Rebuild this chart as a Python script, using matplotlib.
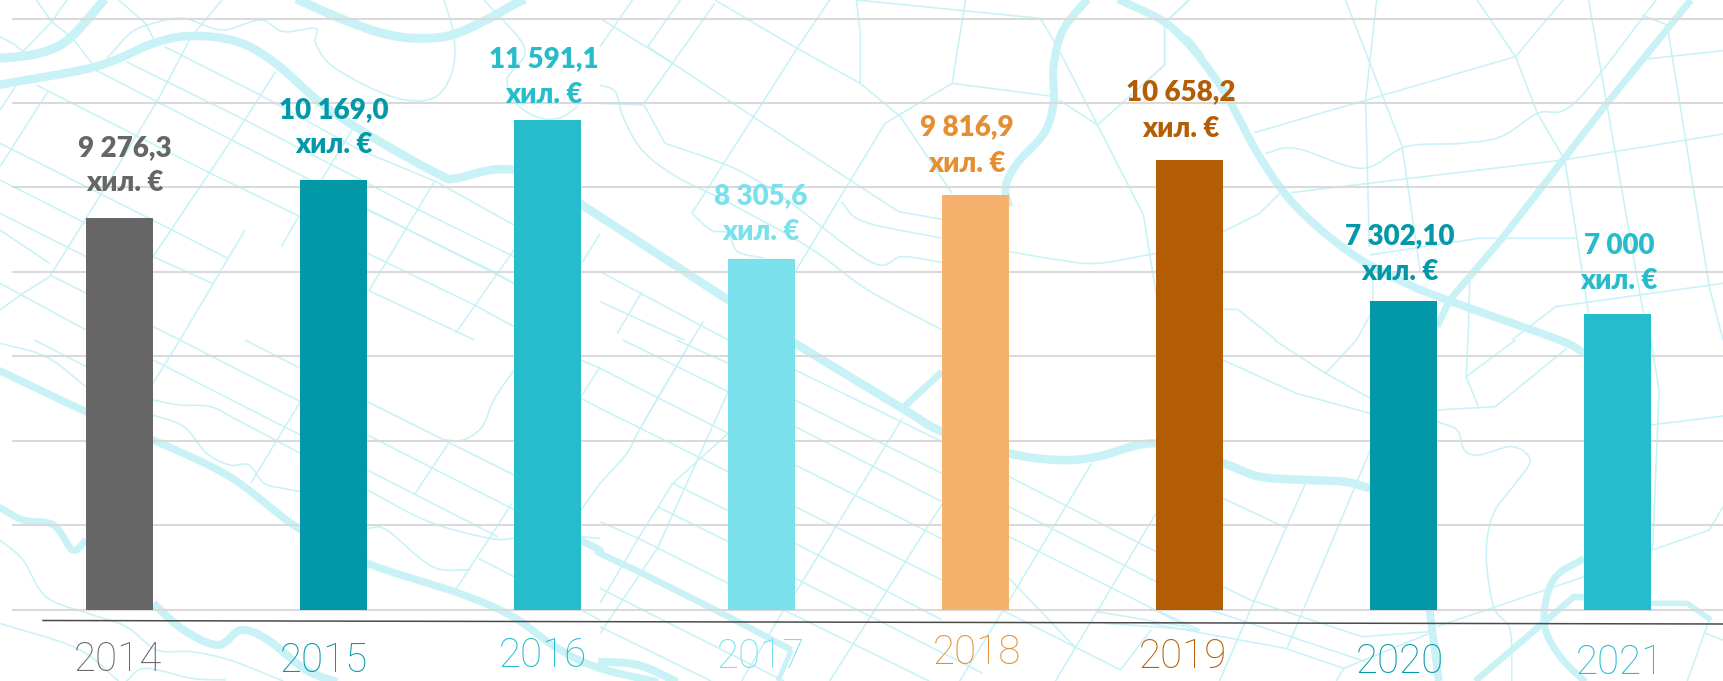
import numpy as np
import matplotlib
matplotlib.use('Agg')
import matplotlib.pyplot as plt

W, H = 1723, 681
years = ['2014', '2015', '2016', '2017', '2018', '2019', '2020', '2021']
values = [9276.3, 10169.0, 11591.1, 8305.6, 9816.9, 10658.2, 7302.1, 7000.0]
value_text = ['9 276,3', '10 169,0', '11 591,1', '8 305,6', '9 816,9', '10 658,2', '7 302,10', '7 000']
unit_text = 'хил. €'
bar_colors = ['#666666', '#0398A8', '#26BCCC', '#7AE1EC', '#F6B26D', '#B35E05', '#0398A8', '#26BCCC']
text_colors = ['#666666', '#0398A8', '#26BCCC', '#7AE1EC', '#E58E32', '#B35E05', '#0398A8', '#26BCCC']
# hand-placed label anchors of the reference, in pixels
year_pos = [(118, 660), (324, 661), (543, 656), (761, 657), (977, 653), (1183, 657), (1400, 662), (1620, 663)]
val_pos = [(125, 148), (334, 110), (544, 59), (761, 196), (967, 127), (1181, 92), (1400, 236), (1619, 246)]
unit_pos = [(125, 183), (334, 145), (544, 95), (761, 232), (967, 164), (1181, 129), (1400, 272), (1619, 281)]

MAP = '#C9F2F7'
fig = plt.figure(figsize=(W / 100, H / 100), dpi=100, facecolor='white')
bg = fig.add_axes([0, 0, 1, 1], zorder=0)
bg.set_xlim(0, W); bg.set_ylim(H, 0); bg.axis('off')

Z = {1: (0, 0, 2.613), 2: (0, 340, 2.613), 4: (600, 0, 2.613), 5: (600, 340, 2.613),
     3: (1150, 340, 2.736), 6: (1150, 0, 2.736)}

def smooth(p, n=14):
    p = np.asarray(p, float)
    if len(p) < 3:
        return p
    q = np.vstack([2 * p[0] - p[1], p, 2 * p[-1] - p[-2]])
    out = []
    for i in range(1, len(q) - 2):
        for t in np.linspace(0, 1, n, endpoint=False):
            out.append(0.5 * ((2 * q[i]) + (-q[i - 1] + q[i + 1]) * t
                              + (2 * q[i - 1] - 5 * q[i] + 4 * q[i + 1] - q[i + 2]) * t ** 2
                              + (-q[i - 1] + 3 * q[i] - 3 * q[i + 1] + q[i + 2]) * t ** 3))
    out.append(q[-2])
    return np.array(out)

def road(panel, pts, px=1.6, curve=False):
    x0, y0, sx = Z[panel]
    p = np.array([(x0 + a / sx, y0 + b / 3) for a, b in pts])
    if curve:
        p = smooth(p)
    bg.plot(p[:, 0], p[:, 1], color=MAP, lw=px * 0.72, solid_capstyle='butt', solid_joinstyle='round')

def chain(segments, px=6.0):
    """thick road crossing several zoom panels"""
    pts = []
    for panel, seg in segments:
        x0, y0, sx = Z[panel]
        pts += [(x0 + a / sx, y0 + b / 3) for a, b in seg]
    p = smooth(pts)
    bg.plot(p[:, 0], p[:, 1], color=MAP, lw=px * 0.72, solid_capstyle='butt')

# ---- thick roads
chain([(1, [(-5, 255), (250, 200), (400, 130), (500, 108), (620, 125), (720, 190), (850, 320), (1000, 430), (1150, 525),
            (1190, 535), (1300, 508), (1400, 530), (1568, 650)]),
       (4, [(335, 900)]), (5, [(510, 10), (790, 205), (894, 275), (1069, 340), (1200, 360), (1300, 350), (1453, 310)]),
       (3, [(200, 370), (300, 410), (430, 420), (530, 425), (603, 445)])], 8.5)
chain([(1, [(770, -5), (900, 60), (1000, 100), (1090, 115), (1180, 105), (1270, 60), (1340, 15), (1375, -5)])], 9)
chain([(1, [(-5, 175), (80, 165), (150, 140), (200, 95), (275, -5)])], 9)
chain([(2, [(-5, 90), (225, 215), (400, 300), (600, 410), (780, 565), (960, 670), (1200, 760), (1340, 830), (1450, 920),
            (1568, 985)]), (5, [(200, 1038)])], 7.5)
chain([(2, [(-5, 500), (60, 540), (140, 555), (190, 630), (225, 600)])], 7)
chain([(2, [(400, 790), (480, 870), (570, 915), (630, 870), (700, 900), (800, 990), (890, 1030)])], 8)
chain([(2, [(1518, 600), (1568, 630)]), (5, [(0, 640), (110, 700), (335, 830), (500, 930)])], 6.5)
chain([(5, [(-5, 965), (100, 975), (210, 1030)])], 8)
chain([(4, [(1275, -5), (1210, 90), (1185, 200), (1185, 310), (1160, 400), (1090, 490), (1060, 560), (1069, 620)])], 8)
road(5, [(894, 95), (790, 205)], 7)
road(5, [(500, 930), (465, 1023)], 5)
chain([(4, [(1350, -5), (1480, 70), (1568, 170)]),
       (6, [(100, 120), (200, 270), (300, 470), (400, 620), (550, 760), (700, 850), (850, 915), (1120, 1020)]),
       (3, [(1188, 40)])], 8)
road(6, [(1480, 0), (1250, 310), (960, 720), (820, 900), (785, 980)], 7)
chain([(3, [(1188, 655), (1110, 710), (1080, 800), (1085, 880), (1130, 960), (1195, 1030)])], 7)
road(3, [(890, 1023), (1160, 770), (1188, 772)], 6.5)
road(3, [(1371, 790), (1470, 790), (1535, 840)], 5.5)
road(3, [(765, 810), (790, 1023)], 8)

# ---- thin streets
thin = [
 (1, [(95,0),(135,65),(190,115),(240,190)]), (1, [(175,0),(135,65),(60,155)]), (1, [(310,0),(380,70),(405,125)]),
 (1, [(0,110),(40,135),(60,155)]), (1, [(580,0),(500,110),(410,305),(260,590),(130,830),(60,880),(0,930)]),
 (1, [(430,140),(680,285),(940,450),(1140,545),(1343,675)]), (1, [(330,185),(640,360),(1095,630),(1343,770)]),
 (1, [(250,210),(605,420),(1060,685),(1343,850)]), (1, [(95,255),(550,520),(785,650)]),
 (1, [(0,430),(450,690),(595,775)]), (1, [(0,540),(225,670)]), (1, [(400,770),(555,850)]), (1, [(0,640),(225,770)]),
 (1, [(130,825),(470,1020)]), (1, [(0,850),(225,990)]), (1, [(0,690),(130,790)]),
 (1, [(125,275),(0,500)]), (1, [(40,260),(0,330)]), (1, [(720,215),(640,360),(400,770)]), (1, [(640,690),(470,1020)]),
 (1, [(780,650),(735,740)]), (1, [(920,390),(840,540)]), (1, [(1135,545),(965,870)]), (1, [(1343,750),(1190,1000)]),
 (1, [(1568,700),(1520,790)]), (1, [(960,870),(1240,1020)]), (1, [(960,630),(1290,815),(1343,850)]),
 (1, [(960,760),(1240,915),(1343,980)]),
 (2, [(90,0),(225,80)]), (2, [(470,0),(400,130)]), (2, [(470,0),(785,185)]), (2, [(400,60),(785,285)]), (2, [(640,0),(785,85)]),
 (2, [(960,185),(1343,405)]), (2, [(960,285),(1568,640)]), (2, [(960,390),(1300,590)]),
 (2, [(785,185),(655,430)]), (2, [(1175,305),(1085,460)]), (2, [(1338,490),(1190,750)]), (2, [(1250,655),(1343,710)]),
 (2, [(1518,170),(1568,80)]), (2, [(1518,510),(1568,430)]), (2, [(1518,60),(1568,85)]), (2, [(1518,175),(1568,205)]),
 (2, [(1518,810),(1568,840)]), (2, [(1518,590),(1568,595)]),
 (4, [(0,55),(190,190),(400,350),(780,635),(894,658)]), (4, [(300,0),(515,145),(680,250),(785,350),(920,580)]),
 (4, [(85,0),(0,140)]), (4, [(210,0),(125,140)]), (4, [(300,10),(115,310)]), (4, [(125,140),(190,190)]),
 (4, [(600,0),(515,145),(240,640)]), (4, [(670,0),(680,100),(680,250)]),
 (4, [(670,0),(1150,55),(1190,130),(1300,375),(1420,645),(1453,880)]), (4, [(955,0),(920,250),(745,370),(510,815)]),
 (4, [(920,250),(1175,288)]), (4, [(1200,300),(1300,375),(1475,195),(1475,100)]), (4, [(1475,70),(1540,0)]),
 (4, [(0,310),(115,315),(170,430)]), (4, [(0,815),(335,1020)]), (4, [(110,875),(45,1000)]), (4, [(0,905),(220,1020)]),
 (4, [(270,965),(240,1020)]),
 (5, [(60,0),(335,155)]), (5, [(200,0),(335,70)]), (5, [(0,85),(335,280)]), (5, [(0,205),(335,395)]),
 (5, [(190,430),(335,512)]), (5, [(150,500),(335,605)]), (5, [(0,545),(100,595),(335,730)]), (5, [(0,745),(480,1023)]),
 (5, [(0,860),(290,1023)]), (5, [(480,810),(860,1023)]), (5, [(510,90),(894,305)]), (5, [(510,180),(894,400)]),
 (5, [(510,260),(894,485)]), (5, [(510,375),(894,597)]), (5, [(510,500),(894,720)]), (5, [(510,610),(894,840)]),
 (5, [(510,715),(1000,1000)]), (5, [(1069,410),(1453,635)]), (5, [(1069,500),(1453,725)]), (5, [(1069,590),(1400,780),(1568,880)]),
 (5, [(1069,715),(1240,920)]), (5, [(1050,810),(1360,990),(1440,870)]), (5, [(1300,815),(1530,860)]), (5, [(1320,850),(1568,870)]),
 (5, [(1453,810),(1568,870)]), (5, [(240,0),(105,265)]), (5, [(335,155),(150,625),(0,880)]), (5, [(190,430),(100,595),(0,790)]),
 (5, [(335,280),(190,430)]), (5, [(790,235),(510,760)]), (5, [(895,490),(600,1023)]), (5, [(480,810),(370,1023)]),
 (5, [(1285,370),(1070,780),(940,1023)]), (5, [(1453,520),(1190,1023)]),
 (3, [(200,60),(400,160),(603,220)]), (3, [(340,0),(480,100),(603,175)]), (3, [(565,0),(480,100)]),
 (3, [(785,210),(945,200),(1140,25)]), (3, [(865,110),(1000,0)]), (3, [(870,0),(865,110),(900,205)]), (3, [(200,475),(375,565)]),
 (3, [(425,430),(190,1023)]), (3, [(603,330),(375,925)]), (3, [(200,740),(275,780),(580,890),(765,875)]), (3, [(165,810),(590,965)]),
 (3, [(0,850),(370,925),(530,985),(765,880)]), (3, [(1370,0),(1393,150),(1375,630),(1530,570),(1568,500)]),
 (3, [(1370,255),(1568,228)]), (3, [(785,860),(1188,710)]), (3, [(1530,840),(1470,1023)]), (3, [(1520,880),(1568,900)]),
 (3, [(530,985),(510,1023)]),
 (6, [(105,0),(40,70),(40,195),(0,235)]), (6, [(535,0),(690,440),(740,820)]), (6, [(620,0),(590,300),(600,740)]),
 (6, [(895,0),(1000,170),(1060,340),(1135,480),(1200,940)]), (6, [(1130,0),(1000,170),(285,398)]), (6, [(1200,0),(1350,940)]),
 (6, [(1345,45),(1415,75),(1530,860),(1568,1020)]), (6, [(1350,178),(1568,152)]), (6, [(385,578),(1130,480),(1568,402)]),
 (6, [(355,580),(300,640),(200,695)]), (6, [(600,765),(900,715),(1165,715)]), (6, [(1110,920),(1568,850)]),
 (6, [(1110,920),(990,1020)]), (6, [(200,928),(240,928),(345,1020)]), (6, [(875,840),(870,1020)]), (6, [(610,840),(610,930),(565,1020)]),
]
for panel, pts in thin:
    road(panel, pts)

curvy = [
 (1, [(280,175),(340,100),(400,70),(480,55),(580,90),(680,60),(740,95),(825,85),(825,130),(870,200),(1000,280),(1090,303),(1150,280),(1185,200),(1185,100),(1160,0)]),
 (1, [(1265,0),(1370,140),(1340,210),(1325,240),(1340,300),(1400,350),(1460,355),(1510,320)]),
 (2, [(0,10),(120,50),(225,140)]),
 (2, [(400,180),(470,195),(550,200),(620,240),(785,340)]),
 (2, [(400,225),(480,260),(540,340),(600,375),(650,375),(690,430),(740,445),(785,455)]),
 (2, [(1343,90),(1290,180),(1260,260),(1210,300),(1160,300)]),
 (2, [(960,450),(1120,545),(1280,595),(1343,595)]),
 (2, [(960,565),(1010,570),(1130,680),(1230,690)]),
 (2, [(0,600),(60,660),(120,770),(230,820),(330,860),(410,930),(500,935),(600,960),(740,1023)]),
 (2, [(0,850),(200,925),(310,1023)]),
 (2, [(330,1023),(380,985),(500,1015),(590,1020)]),
 (4, [(240,640),(290,690),(335,700),(360,755),(430,775)]),
 (4, [(0,255),(40,275),(60,350),(110,450),(200,530),(340,610),(550,745),(700,870),(894,990)]),
 (4, [(170,430),(320,490),(400,535),(500,610),(710,787),(790,770),(894,787)]),
 (4, [(630,605),(690,665),(894,715)]),
 (4, [(1070,755),(1200,780),(1300,790),(1453,760)]),
 (5, [(240,0),(105,265),(70,340),(0,430)]),
 (3, [(785,245),(840,270),(860,330),(900,345),(990,320),(1040,360),(1000,430),(940,520),(920,640),(940,800),(985,870),(990,1023)]),
 (6, [(1385,0),(1165,305),(1060,340),(960,410),(850,430),(700,440),(580,505),(400,445),(315,460)]),
]
for panel, pts in curvy:
    road(panel, pts, curve=True)

# ---- chart
ax = fig.add_axes([12.5 / W, 1 - 609.5 / H, (W - 12.5 + 1.5) / W, 591 / H], zorder=1)
ax.patch.set_alpha(0)
x = np.arange(len(years))
ax.bar(x, values, width=67 / 214, color=bar_colors, zorder=3)
ax.set_xlim(-0.5, 7.5)
ax.set_ylim(0, 14000)
ax.set_yticks(np.arange(0, 14001, 2000))
ax.set_xticks([])
ax.tick_params(left=False, labelleft=False)
ax.yaxis.grid(True, color='#DADADA', lw=1.5)
ax.set_axisbelow(True)
for s in ax.spines.values():
    s.set_visible(False)
for gl in ax.get_ygridlines():
    gl.set_clip_on(False)

# hand-drawn axis line, slightly tilted in the reference
top = fig.add_axes([0, 0, 1, 1], zorder=2)
top.set_xlim(0, W); top.set_ylim(H, 0); top.axis('off')
top.plot([43, 1723], [620.5, 624], color='#4A4A4A', lw=1.1)

for i in range(len(years)):
    top.text(*year_pos[i], years[i], color=text_colors[i], family='Roboto', weight='light', fontsize=29,
             ha='center', va='center')
    top.text(*val_pos[i], value_text[i], color=text_colors[i], family='Lato', weight='heavy', fontsize=20,
             ha='center', va='center')
    top.text(*unit_pos[i], unit_text, color=text_colors[i], family='Lato', weight='heavy', fontsize=20,
             ha='center', va='center')

fig.savefig('out.png', dpi=100, facecolor='white')
